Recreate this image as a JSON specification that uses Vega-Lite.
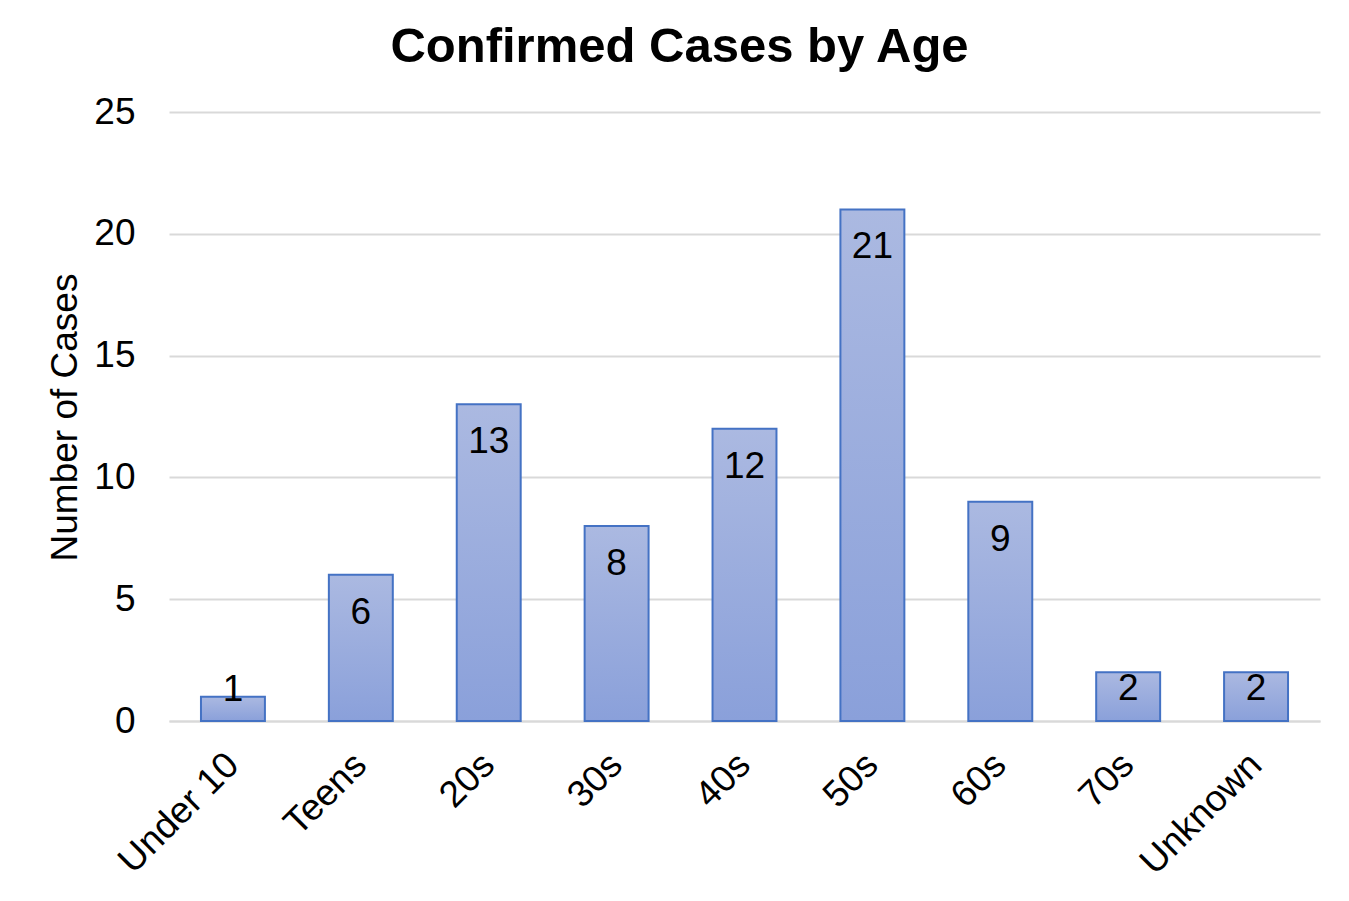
{
  "$schema": "https://vega.github.io/schema/vega-lite/v6.json",
  "width": 1151,
  "height": 609,
  "autosize": "none",
  "padding": {"left": 169, "top": 112, "right": 29, "bottom": 180},
  "background": "white",
  "config": {
    "font": "Liberation Sans",
    "view": {"stroke": null}
  },
  "title": {
    "text": "Confirmed Cases by Age",
    "fontSize": 49,
    "fontWeight": "bold",
    "color": "#000000",
    "font": "Liberation Sans",
    "anchor": "middle",
    "dx": -65,
    "baseline": "bottom",
    "offset": -28
  },
  "data": {
    "values": [
      {"age": "Under 10", "count": 1},
      {"age": "Teens", "count": 6},
      {"age": "20s", "count": 13},
      {"age": "30s", "count": 8},
      {"age": "40s", "count": 12},
      {"age": "50s", "count": 21},
      {"age": "60s", "count": 9},
      {"age": "70s", "count": 2},
      {"age": "Unknown", "count": 2}
    ]
  },
  "encoding": {
    "x": {
      "field": "age",
      "type": "nominal",
      "sort": null,
      "scale": {"paddingInner": 0.5, "paddingOuter": 0.25},
      "axis": {
        "title": null,
        "labelAngle": -45,
        "labelAlign": "right",
        "labelBaseline": "middle",
        "labelFontSize": 37,
        "labelColor": "#000000",
        "labelPadding": 38,
        "ticks": false,
        "domainColor": "#d9d9d9",
        "domainWidth": 2,
        "grid": false
      }
    },
    "y": {
      "field": "count",
      "type": "quantitative",
      "scale": {"domain": [0, 25]},
      "axis": {
        "title": "Number of Cases",
        "titleFontSize": 37,
        "titleFontWeight": "normal",
        "titleColor": "#000000",
        "titleX": -104,
        "titleY": 305,
        "titleBaseline": "middle",
        "titleAngle": -90,
        "values": [0, 5, 10, 15, 20, 25],
        "labelFontSize": 37,
        "labelColor": "#000000",
        "labelPadding": 34,
        "ticks": false,
        "domain": false,
        "gridColor": "#d9d9d9",
        "gridWidth": 2
      }
    }
  },
  "layer": [
    {
      "mark": {
        "type": "bar",
        "stroke": "#4472c4",
        "strokeWidth": 2,
        "color": {
          "gradient": "linear",
          "x1": 0, "y1": 0, "x2": 0, "y2": 1,
          "stops": [
            {"offset": 0, "color": "#abb9e1"},
            {"offset": 1, "color": "#8aa0da"}
          ]
        }
      }
    },
    {
      "mark": {
        "type": "text",
        "fontSize": 37,
        "color": "#000000",
        "baseline": "middle",
        "dy": {"expr": "datum.count > 2 ? 38 : (datum.count == 2 ? 17 : -7)"}
      },
      "encoding": {
        "text": {"field": "count", "type": "quantitative"}
      }
    }
  ]
}
